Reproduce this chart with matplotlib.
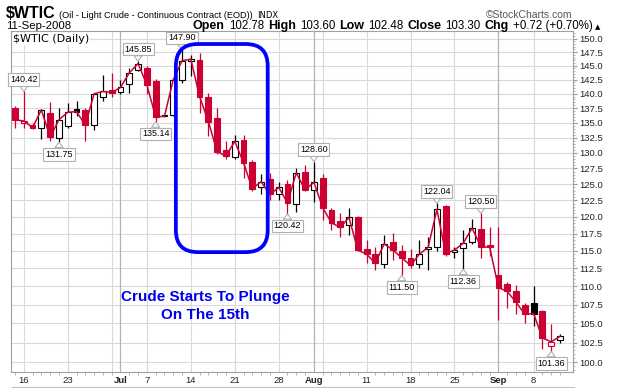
import numpy as np
import pandas as pd
import matplotlib
matplotlib.use("Agg")
import matplotlib.pyplot as plt
from matplotlib.patches import Rectangle, FancyBboxPatch
from matplotlib.transforms import IdentityTransform
from matplotlib.lines import Line2D
from matplotlib.ticker import FixedLocator, NullFormatter

plt.rcParams['font.family'] = ['Liberation Sans', 'DejaVu Sans']

# daily bars 13-Jun-2008 .. 11-Sep-2008
opens = [137.6, 135.0, 134.6, 134.1, 136.7, 132.4, 134.5, 137.3, 137.2, 134.6,
         139.4, 140.7, 140.3, 141.8, 144.3, 144.5, 142.2, 136.3, 136.4, 142.5,
         145.8, 146.0, 139.4, 135.8, 130.4, 129.4, 132.1, 128.6, 124.6, 125.8,
         123.5, 125.0, 121.9, 127.0, 124.1, 126.0, 121.0, 119.3, 118.7, 119.9,
         115.3, 114.6, 113.1, 116.3, 114.9, 114.0, 113.1, 115.2, 115.6, 121.6,
         114.8, 115.4, 116.2, 118.2, 115.9, 111.6, 110.3, 109.4, 107.4, 107.7,
         106.7, 102.1, 102.78]
highs = [137.9, 140.42, 134.9, 137.4, 138.5, 137.5, 138.4, 138.7, 137.5, 140.2,
         143.3, 143.6, 142.5, 144.6, 145.85, 144.9, 142.6, 136.4, 142.6, 147.90,
         147.0, 147.3, 140.2, 137.5, 131.9, 132.9, 132.9, 128.8, 126.6, 126.8,
         125.4, 125.7, 127.5, 128.1, 128.60, 126.6, 121.3, 120.6, 121.3, 120.1,
         116.6, 115.5, 117.3, 117.6, 115.9, 115.3, 116.6, 117.0, 122.04, 121.8,
         115.6, 118.1, 119.6, 120.50, 118.5, 118.4, 110.6, 110.2, 107.7, 110.0,
         106.8, 104.9, 103.60]
lows = [134.1, 134.1, 134.0, 132.3, 132.0, 131.75, 134.1, 136.1, 131.9, 133.7,
        138.7, 139.4, 140.0, 140.2, 144.1, 140.0, 135.14, 135.9, 136.2, 141.9,
        143.1, 136.6, 132.8, 129.9, 129.0, 129.0, 126.0, 124.0, 123.4, 122.6,
        122.6, 120.42, 120.7, 123.9, 122.3, 119.5, 118.0, 117.0, 117.3, 114.9,
        113.3, 112.2, 112.6, 113.7, 111.50, 112.6, 112.5, 112.2, 115.0, 114.3,
        113.9, 112.36, 116.0, 114.0, 114.2, 105.4, 107.0, 106.3, 105.1, 104.6,
        101.7, 101.36, 102.48]
closes = [135.5, 135.3, 134.2, 137.2, 132.6, 135.5, 136.8, 136.9, 134.6, 140.0,
          140.4, 140.2, 141.1, 143.7, 145.4, 141.6, 136.0, 136.1, 142.45, 145.9,
          146.2, 139.5, 135.2, 130.2, 129.5, 131.9, 128.4, 124.3, 125.4, 123.4,
          124.5, 122.1, 126.8, 124.1, 125.3, 121.4, 119.1, 118.4, 119.9, 115.1,
          114.5, 113.2, 116.0, 115.1, 114.0, 112.9, 114.5, 115.5, 121.1, 114.6,
          115.1, 116.1, 118.3, 115.6, 115.5, 109.8, 109.3, 107.8, 106.2, 106.3,
          103.1, 102.6, 103.30]
prior_close = 137.0

# labelled highs (True) and lows (False)
label_idx = [1, 5, 14, 16, 19, 31, 34, 44, 48, 51, 53, 61]
label_high = [True, False, True, False, True, False, True, False, True, False, True, False]

tick_dates = ['2008-06-16', '2008-06-23', '2008-07-01', '2008-07-07', '2008-07-14',
              '2008-07-21', '2008-07-28', '2008-08-01', '2008-08-11', '2008-08-18',
              '2008-08-25', '2008-09-02', '2008-09-08']
tick_text = ['16', '23', 'Jul', '7', '14', '21', '28', 'Aug', '11', '18', '25', 'Sep', '8']
month_names = ['Jul', 'Aug', 'Sep']

dates = pd.bdate_range('2008-06-13', '2008-09-11')
dates = dates.drop(pd.to_datetime(['2008-07-04', '2008-09-01']))
n = len(dates)
x = np.arange(n)

RED = '#cc0033'
GRID = '#d9d9d9'
W, H = 620, 388

fig = plt.figure(figsize=(W / 100, H / 100), dpi=100)
L, R, T, B = 11, 573, 31, 372
ax = fig.add_axes([L / W, 1 - B / H, (R - L) / W, (B - T) / H])
ax.set_yscale('log')
ax.set_ylim(98.79, 151.45)
ax.set_xlim(-0.455, (R - 15) / 8.79)

# horizontal grid
yt = np.arange(100, 150.01, 2.5)
for v in yt:
    ax.axhline(v, color=GRID, lw=0.8, zorder=0)

# vertical grid: first session of each week, darker at month starts
for i in range(1, n):
    if dates[i].month != dates[i - 1].month:
        ax.axvline(i, color='#b4b4b4', lw=0.9, zorder=0)
    elif dates[i].weekday() < dates[i - 1].weekday():
        ax.axvline(i, color=GRID, lw=0.8, zorder=0)

# candles
bw = 0.66
for i in range(n):
    o, h, l, c = opens[i], highs[i], lows[i], closes[i]
    prev = closes[i - 1] if i > 0 else prior_close
    col = 'black' if c >= prev else RED
    hollow = c > o
    ax.vlines(i, l, h, color=col, lw=0.9, zorder=2)
    lo, hi = min(o, c), max(o, c)
    if hi - lo < 0.12:
        hi = lo + 0.12
    ax.add_patch(Rectangle((i - bw / 2, lo), bw, hi - lo,
                           facecolor='white' if hollow else col,
                           edgecolor=col, lw=0.8, zorder=3))

ax.plot(x, closes, color=RED, lw=1.1, zorder=4)

# high / low labels
for i, up in zip(label_idx, label_high):
    v = highs[i] if up else lows[i]
    ax.annotate(f'{v:.2f}', xy=(i, v), xytext=(0, 12 if up else -12),
                textcoords='offset pixels', ha='center', va='center',
                fontsize=6.5, annotation_clip=False, zorder=6,
                bbox=dict(boxstyle='square,pad=0.2', fc='white', ec='#b0b0b0', lw=0.8),
                arrowprops=dict(arrowstyle='wedge,tail_width=0.9,shrink_factor=0.5',
                                fc='white', ec='#b0b0b0', lw=0.8, shrinkA=0, shrinkB=0))

# axes styling
for s in ax.spines.values():
    s.set_color('#a0a0a0')
    s.set_linewidth(0.8)
ax.yaxis.tick_right()
ax.yaxis.set_major_locator(FixedLocator(yt))
ax.set_yticklabels([f'{v:.1f}' for v in yt])
ax.yaxis.set_minor_locator(FixedLocator(np.arange(99, 151.4, 0.5)))
ax.yaxis.set_minor_formatter(NullFormatter())
ax.tick_params(axis='y', which='major', length=3, width=0.8, color='#999999',
               labelsize=6.8, pad=1.5, labelcolor='#222222')
ax.tick_params(axis='y', which='minor', length=1.5, width=0.6, color='#aaaaaa')

tpos = [dates.get_loc(pd.Timestamp(d)) for d in tick_dates]
ax.set_xticks(tpos)
ax.set_xticklabels(tick_text)
for lab in ax.get_xticklabels():
    if lab.get_text() in month_names:
        lab.set_fontweight('bold')
        lab.set_fontsize(8.5)
ax.xaxis.set_minor_locator(FixedLocator(x))
ax.tick_params(axis='x', which='major', length=0, labelsize=6.8, pad=3, labelcolor='#222222')
ax.tick_params(axis='x', which='minor', length=2, width=0.6, color='#aaaaaa')

ax.text(2 / (R - L), 1 - 8 / (B - T), '$WTIC (Daily)', transform=ax.transAxes,
        fontsize=8, family=['DejaVu Sans'], va='center', ha='left', parse_math=False,
        bbox=dict(fc='white', ec='none', pad=0.5), zorder=5)

# highlight box around the drop
box_x = (18.3, 28.75)
box_y = (114.8, 149.0)
fig.canvas.draw()
(x0, y0) = ax.transData.transform((box_x[0], box_y[0]))
(x1, y1) = ax.transData.transform((box_x[1], box_y[1]))
ax.add_patch(FancyBboxPatch((x0, y0), x1 - x0, y1 - y0,
                            boxstyle='round,pad=0,rounding_size=22',
                            transform=IdentityTransform(), fill=False,
                            ec='#0000ff', lw=2.7, zorder=7, clip_on=False))
ax.text(21.7, 107.3, 'Crude Starts To Plunge\nOn The 15th', color='#0000ee',
        fontsize=11, fontweight='bold', ha='center', va='center',
        linespacing=1.3, zorder=7)

# header
rend = fig.canvas.get_renderer()


def put(xpx, ypx, s, **kw):
    t = fig.text(xpx / W, 1 - ypx / H, s, va='baseline', parse_math=False, **kw)
    return t.get_window_extent(rend).width


w = put(6, 18, '$WTIC', fontsize=11.5, fontweight='bold')
w2 = put(6 + w + 3, 18, '(Oil - Light Crude - Continuous Contract (EOD))', fontsize=6.6)
put(6 + w + 3 + w2 + 5, 18, 'INDX', fontsize=6, family=['DejaVu Sans'])
put(572, 18, '\u00a9StockCharts.com', fontsize=7.5, ha='right', color='#555555')

put(6, 29, '11-Sep-2008', fontsize=8.2)
pieces = [('Open', True), ('102.78', False), ('High', True), ('103.60', False),
          ('Low', True), ('102.48', False), ('Close', True), ('103.30', False),
          ('Chg', True), ('+0.72 (+0.70%)', False), ('\u25b2', False)]
xe = 600
for s, bold in reversed(pieces):
    kw = dict(fontsize=9, fontweight='bold') if bold else dict(fontsize=8.3)
    if s == '\u25b2':
        kw = dict(fontsize=5, family=['DejaVu Sans'])
    ww = put(xe, 29, s, ha='right', **kw)
    xe -= ww + (2 if s == '\u25b2' else 4)

fig.add_artist(Line2D([12 / W, 574 / W], [1.5 / H, 1.5 / H], color='#c0c0c0', lw=0.8))

fig.savefig('out.png', dpi=100)
